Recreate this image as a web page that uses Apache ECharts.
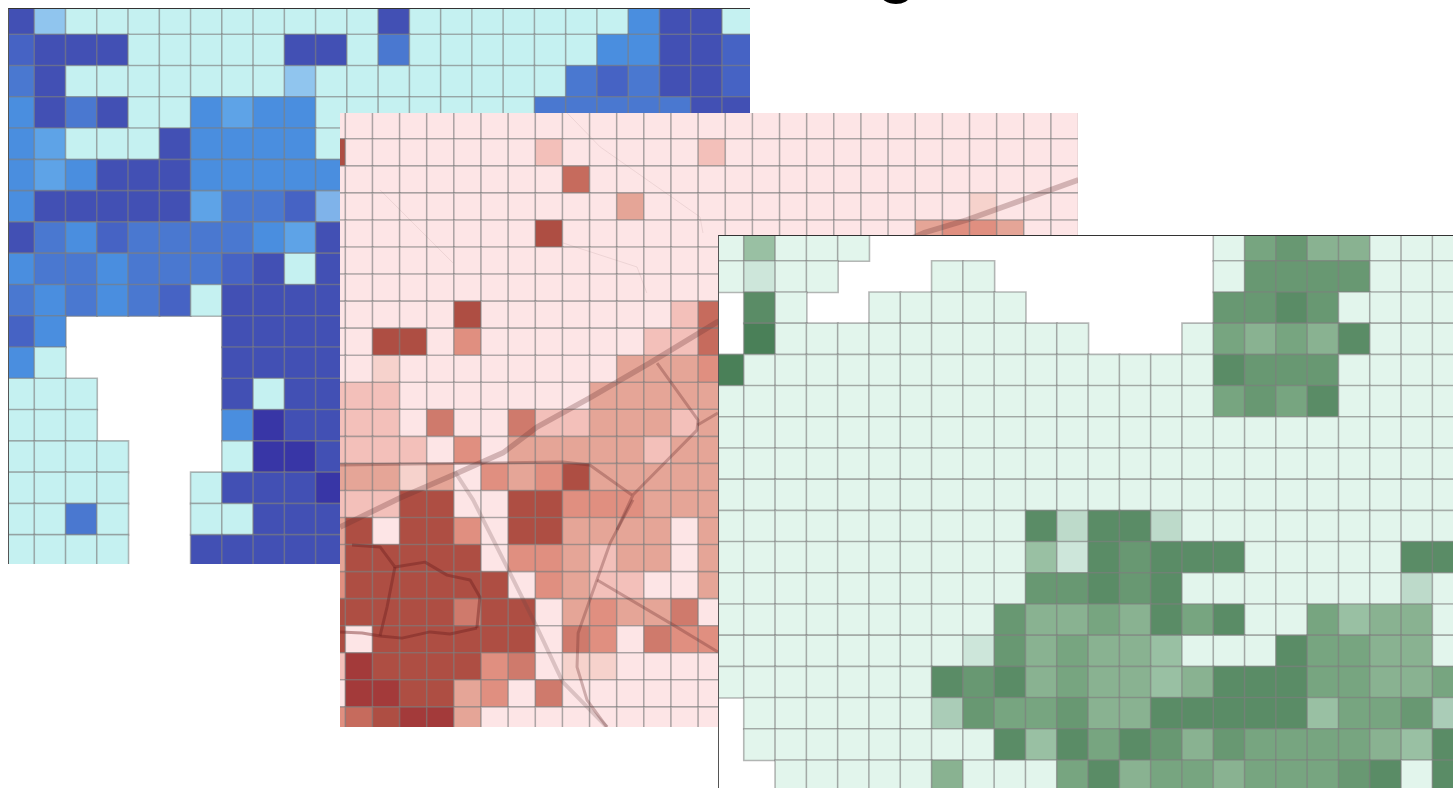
<!DOCTYPE html>
<html>
<head>
<meta charset="utf-8">
<title>grid maps</title>
<script src="https://cdn.jsdelivr.net/npm/echarts@6/dist/echarts.min.js"></script>
<style>
  html, body { margin: 0; padding: 0; background: #fff; overflow: hidden; }
  .panel { position: absolute; }
  #titleChart { left: 0; top: 0; width: 1453px; height: 30px; }
  #bluePanel { left: 8px; top: 8px; width: 742px; height: 556px; z-index: 1; }
  #redPanel { left: 340px; top: 113px; width: 738px; height: 614px; z-index: 2; }
  #greenPanel { left: 718px; top: 235px; width: 735px; height: 553px; z-index: 3; background: #fff; }
  .framed::after {
    content: '';
    position: absolute;
    left: 0; top: 0; right: 0; bottom: 0;
    box-sizing: border-box;
    border-top: 1px solid #333;
    border-left: 1px solid #555;
    z-index: 9;
    pointer-events: none;
  }
</style>
</head>
<body>
<div id="titleChart" class="panel"></div>
<div id="bluePanel" class="panel framed"></div>
<div id="redPanel" class="panel"></div>
<div id="greenPanel" class="panel framed"></div>
<script>
const _ = null

// class of each cell, row by row; rows stop where the next panel hides them
const blueRows = [
  [7, 1, 0, 0, 0, 0, 0, 0, 0, 0, 0, 0, 7, 0, 0, 0, 0, 0, 0, 0, 4, 7, 7, 0],
  [6, 7, 7, 7, 0, 0, 0, 0, 0, 7, 7, 0, 5, 0, 0, 0, 0, 0, 0, 4, 4, 7, 7, 6],
  [5, 7, 0, 0, 0, 0, 0, 0, 0, 1, 0, 0, 0, 0, 0, 0, 0, 0, 5, 6, 5, 7, 7, 6],
  [4, 7, 5, 7, 0, 0, 4, 3, 4, 4, 0, 0, 0, 0, 0, 0, 0, 5, 5, 5, 5, 5, 7, 7],
  [4, 3, 0, 0, 0, 7, 4, 4, 4, 4, 0],
  [4, 3, 4, 7, 7, 7, 4, 4, 4, 4, 4],
  [4, 7, 7, 7, 7, 7, 3, 5, 5, 6, 2],
  [7, 5, 4, 6, 5, 5, 5, 5, 4, 3, 7],
  [4, 5, 5, 4, 5, 5, 5, 6, 7, 0, 7],
  [5, 4, 5, 4, 5, 6, 0, 7, 7, 7, 7],
  [6, 4, _, _, _, _, _, 7, 7, 7, 7],
  [4, 0, _, _, _, _, _, 7, 7, 7, 7],
  [0, 0, 0, _, _, _, _, 7, 0, 7, 7],
  [0, 0, 0, _, _, _, _, 4, 8, 7, 7],
  [0, 0, 0, 0, _, _, _, 0, 8, 8, 7],
  [0, 0, 0, 0, _, _, 0, 7, 7, 7, 8],
  [0, 0, 5, 0, _, _, 0, 0, 7, 7, 7],
  [0, 0, 0, 0, _, _, 7, 7, 7, 7, 7]
]

const redRows = [
  [0, 0, 0, 0, 0, 0, 0, 0, 0, 0, 0, 0, 0, 0, 0, 0, 0, 0, 0, 0, 0, 0, 0, 0, 0, 0, 0, 0],
  [7, 0, 0, 0, 0, 0, 0, 0, 1, 0, 0, 0, 0, 0, 1, 0, 0, 0, 0, 0, 0, 0, 0, 0, 0, 0, 0, 0],
  [0, 0, 0, 0, 0, 0, 0, 0, 0, 6, 0, 0, 0, 0, 0, 0, 0, 0, 0, 0, 0, 0, 0, 0, 0, 0, 0, 0],
  [0, 0, 0, 0, 0, 0, 0, 0, 0, 0, 0, 3, 0, 0, 0, 0, 0, 0, 0, 0, 0, 0, 0, 0, 2, 0, 0, 0],
  [0, 0, 0, 0, 0, 0, 0, 0, 7, 0, 0, 0, 0, 0, 0, 0, 0, 0, 0, 0, 0, 0, 3, 4, 4, 3, 0, 0],
  [0, 0, 0, 0, 0, 0, 0, 0, 0, 0, 0, 0, 0, 0, 0],
  [0, 0, 0, 0, 0, 0, 0, 0, 0, 0, 0, 0, 0, 0, 0],
  [0, 0, 0, 0, 0, 7, 0, 0, 0, 0, 0, 0, 0, 1, 6],
  [0, 0, 7, 7, 0, 4, 0, 0, 0, 0, 0, 0, 1, 1, 6],
  [0, 0, 2, 0, 0, 0, 0, 0, 0, 0, 0, 3, 3, 3, 4],
  [1, 1, 1, 0, 0, 0, 0, 0, 0, 0, 3, 3, 3, 3, 3],
  [1, 1, 1, 0, 5, 0, 0, 5, 1, 1, 3, 3, 3, 1, 3],
  [1, 1, 1, 1, 0, 4, 0, 3, 3, 3, 3, 3, 1, 3, 3],
  [3, 3, 3, 2, 3, 0, 4, 3, 4, 7, 3, 3, 3, 3, 3],
  [1, 1, 1, 7, 7, 0, 0, 7, 7, 4, 4, 4, 3, 3, 3],
  [3, 7, 0, 7, 7, 4, 0, 7, 7, 3, 3, 3, 3, 0, 3],
  [3, 7, 7, 7, 7, 7, 0, 4, 4, 3, 1, 3, 3, 0, 3],
  [4, 7, 7, 7, 7, 7, 7, 0, 4, 3, 1, 1, 0, 0, 3],
  [7, 7, 7, 7, 7, 5, 7, 7, 0, 3, 4, 3, 3, 5, 0],
  [7, 0, 7, 7, 7, 7, 7, 7, 0, 5, 4, 0, 5, 4, 4],
  [1, 8, 7, 7, 7, 7, 4, 5, 0, 2, 2, 0, 0, 0, 0],
  [0, 8, 8, 7, 7, 3, 4, 0, 5, 0, 0, 0, 0, 0, 0],
  [4, 6, 7, 8, 8, 3, 0, 0, 0, 0, 0, 0, 0, 0, 0]
]

const greenRows = [
  [0, 4, 0, 0, 0, _, _, _, _, _, _, _, _, _, _, _, 0, 6, 7, 5, 5, 0, 0, 0],
  [0, 1, 0, 0, _, _, _, 0, 0, _, _, _, _, _, _, _, 0, 7, 7, 7, 7, 0, 0, 0],
  [_, 8, 0, _, _, 0, 0, 0, 0, 0, _, _, _, _, _, _, 7, 7, 8, 7, 0, 0, 0, 0],
  [_, 9, 0, 0, 0, 0, 0, 0, 0, 0, 0, 0, _, _, _, 0, 6, 5, 6, 5, 8, 0, 0, 0],
  [9, 0, 0, 0, 0, 0, 0, 0, 0, 0, 0, 0, 0, 0, 0, 0, 8, 7, 7, 7, 0, 0, 0, 0],
  [0, 0, 0, 0, 0, 0, 0, 0, 0, 0, 0, 0, 0, 0, 0, 0, 6, 7, 6, 8, 0, 0, 0, 0],
  [0, 0, 0, 0, 0, 0, 0, 0, 0, 0, 0, 0, 0, 0, 0, 0, 0, 0, 0, 0, 0, 0, 0, 0],
  [0, 0, 0, 0, 0, 0, 0, 0, 0, 0, 0, 0, 0, 0, 0, 0, 0, 0, 0, 0, 0, 0, 0, 0],
  [0, 0, 0, 0, 0, 0, 0, 0, 0, 0, 0, 0, 0, 0, 0, 0, 0, 0, 0, 0, 0, 0, 0, 0],
  [0, 0, 0, 0, 0, 0, 0, 0, 0, 0, 8, 2, 8, 8, 2, 0, 0, 0, 0, 0, 0, 0, 0, 0],
  [0, 0, 0, 0, 0, 0, 0, 0, 0, 0, 4, 1, 8, 7, 8, 8, 8, 0, 0, 0, 0, 0, 8, 8],
  [0, 0, 0, 0, 0, 0, 0, 0, 0, 0, 7, 7, 8, 7, 8, 0, 0, 0, 0, 0, 0, 0, 2, 0],
  [0, 0, 0, 0, 0, 0, 0, 0, 0, 7, 5, 5, 6, 5, 8, 6, 8, 0, 0, 6, 4, 5, 5, 0],
  [0, 0, 0, 0, 0, 0, 0, 0, 1, 7, 5, 6, 5, 5, 4, 0, 0, 0, 8, 6, 6, 5, 5, 0],
  [0, 0, 0, 0, 0, 0, 0, 8, 7, 8, 5, 6, 5, 5, 4, 5, 8, 8, 8, 6, 6, 5, 5, 6],
  [_, 0, 0, 0, 0, 0, 0, 3, 7, 6, 6, 7, 5, 5, 8, 8, 8, 8, 8, 4, 6, 6, 7, 3],
  [_, 0, 0, 0, 0, 0, 0, 0, 0, 8, 4, 8, 6, 8, 7, 5, 7, 6, 6, 6, 6, 5, 4, 8],
  [_, _, 0, 0, 0, 0, 0, 5, 0, 0, 0, 6, 8, 5, 6, 6, 5, 6, 6, 6, 7, 8, 0, 8]
]

const blueColors = ['#c5f1f1', '#90c5ee', '#7fb3ea', '#5ea3e7', '#4a8edf', '#4a78d0', '#4663c4', '#4250b4', '#3836a6']
const redColors = ['#fde5e6', '#f3c0ba', '#f6d2cc', '#e5a597', '#e08f80', '#cf7a6c', '#c66b5d', '#ae4e43', '#a33a3a']
const greenColors = ['#e2f5ec', '#cde6da', '#bddaca', '#aaccb7', '#99c0a3', '#89b291', '#77a580', '#689872', '#5a8c66', '#4a8058']

// basemap roads under the red panel, as [column, row] in cell units
const roadMain = [[0.8, 15.34], [3, 14.27], [4.96, 13.42], [6.8, 12.6], [8.05, 11.65], [10, 10.57], [12.2, 9.28], [14.7, 7.76], [22.3, 4.47], [23.9, 3.99], [28, 2.51]]
const roadSouth = [[5.03, 13.3], [5.7, 14.34], [7, 16.93], [8.05, 19.04], [9, 21.07], [10.63, 22.74]]
const ringRoads = [
  [[0.8, 19.22], [1.61, 19.26], [2.27, 19.37], [3.08, 19.45], [4.11, 19.22], [4.85, 19.3], [5.84, 19.08]],
  [[1.24, 16.01], [2.27, 16.08], [2.82, 16.82], [3.93, 16.64], [4.74, 17.12], [5.59, 17.3], [5.95, 17.93], [5.84, 19.08]],
  [[2.82, 16.82], [2.53, 18.3], [2.27, 19.37]]
]
const sideRoads = [
  [[11, 15.45], [11.59, 14.16], [13.95, 11.76], [13.99, 11.39], [12.48, 9.28]],
  [[13.97, 11.57], [14.72, 11.13]],
  [[11.59, 14.34], [10.75, 15.93], [10, 18.04], [9.57, 19.26], [9.53, 20.52], [9.9, 21.74], [10.63, 22.74]],
  [[10.27, 17.3], [13.07, 18.96], [14.72, 19.96]],
  [[0.8, 13.05], [9.01, 12.94], [10, 13.05], [11.55, 14.16]]
]
const faintRoads = [
  [[9.17, 0.04], [10.38, 1.29], [14.06, 3.88], [14.17, 4.47]],
  [[2.27, 2.88], [4.96, 5.58]],
  [[9.01, 4.84], [11.74, 5.73], [12.1, 6.69]]
]

function indexList(n) {
  const list = []
  for (let i = 0; i < n; i++) list.push(i)
  return list
}

function toCells(rows) {
  const cells = []
  rows.forEach((row, y) => {
    row.forEach((v, x) => {
      if (v !== null) cells.push([x, y, v])
    })
  })
  return cells
}

function roadSeries(points, width, color) {
  return {
    type: 'line',
    xAxisIndex: 1,
    yAxisIndex: 1,
    data: points,
    showSymbol: false,
    silent: true,
    z: 5,
    lineStyle: { width: width, color: color }
  }
}

function drawPanel(id, rows, colors, rect, nCols, extraSeries) {
  const chart = echarts.init(document.getElementById(id))
  // panels run past their own edge on purpose, the canvas cuts them off
  const grid = { left: rect.left, top: rect.top, width: rect.width, height: rect.height, outerBoundsMode: 'none' }
  const hidden = { axisLine: { show: false }, axisTick: { show: false }, axisLabel: { show: false }, splitLine: { show: false } }
  chart.setOption({
    animation: false,
    grid: [grid, grid],
    xAxis: [
      Object.assign({ type: 'category', data: indexList(nCols), gridIndex: 0 }, hidden),
      Object.assign({ type: 'value', min: 0, max: nCols, gridIndex: 1 }, hidden)
    ],
    yAxis: [
      Object.assign({ type: 'category', data: indexList(rows.length), inverse: true, gridIndex: 0 }, hidden),
      Object.assign({ type: 'value', min: 0, max: rows.length, inverse: true, gridIndex: 1 }, hidden)
    ],
    visualMap: {
      show: false,
      seriesIndex: 0,
      type: 'piecewise',
      dimension: 2,
      pieces: colors.map((c, i) => ({ value: i, color: c }))
    },
    series: [{
      type: 'heatmap',
      data: toCells(rows),
      xAxisIndex: 0,
      yAxisIndex: 0,
      itemStyle: { borderColor: 'rgba(125,125,125,0.55)', borderWidth: 1.6 }
    }].concat(extraSeries || [])
  })
}

drawPanel('bluePanel', blueRows, blueColors, { left: -4.76, top: -4.8, width: 750.24, height: 563 }, 24)

const roads = [roadSeries(roadMain, 5.5, 'rgba(100,45,45,0.28)'), roadSeries(roadSouth, 4, 'rgba(100,70,70,0.22)')]
  .concat(ringRoads.map(r => roadSeries(r, 3, 'rgba(110,30,30,0.42)')))
  .concat(sideRoads.map(r => roadSeries(r, 3, 'rgba(100,40,40,0.3)')))
  .concat(faintRoads.map(r => roadSeries(r, 1, 'rgba(120,90,90,0.12)')))
drawPanel('redPanel', redRows, redColors, { left: -21.6, top: -1, width: 759.92, height: 622.15 }, 28, roads)

drawPanel('greenPanel', greenRows, greenColors, { left: -5.3, top: -5.2, width: 751.2, height: 561.6 }, 24)

// only the tail of the cut off heading shows at the top of the page
const titleChart = echarts.init(document.getElementById('titleChart'))
titleChart.setOption({
  animation: false,
  title: {
    text: 'g',
    left: 868,
    top: -84,
    textStyle: { fontFamily: 'Roboto', fontWeight: 300, fontSize: 86, color: '#000' }
  }
})
</script>
</body>
</html>
